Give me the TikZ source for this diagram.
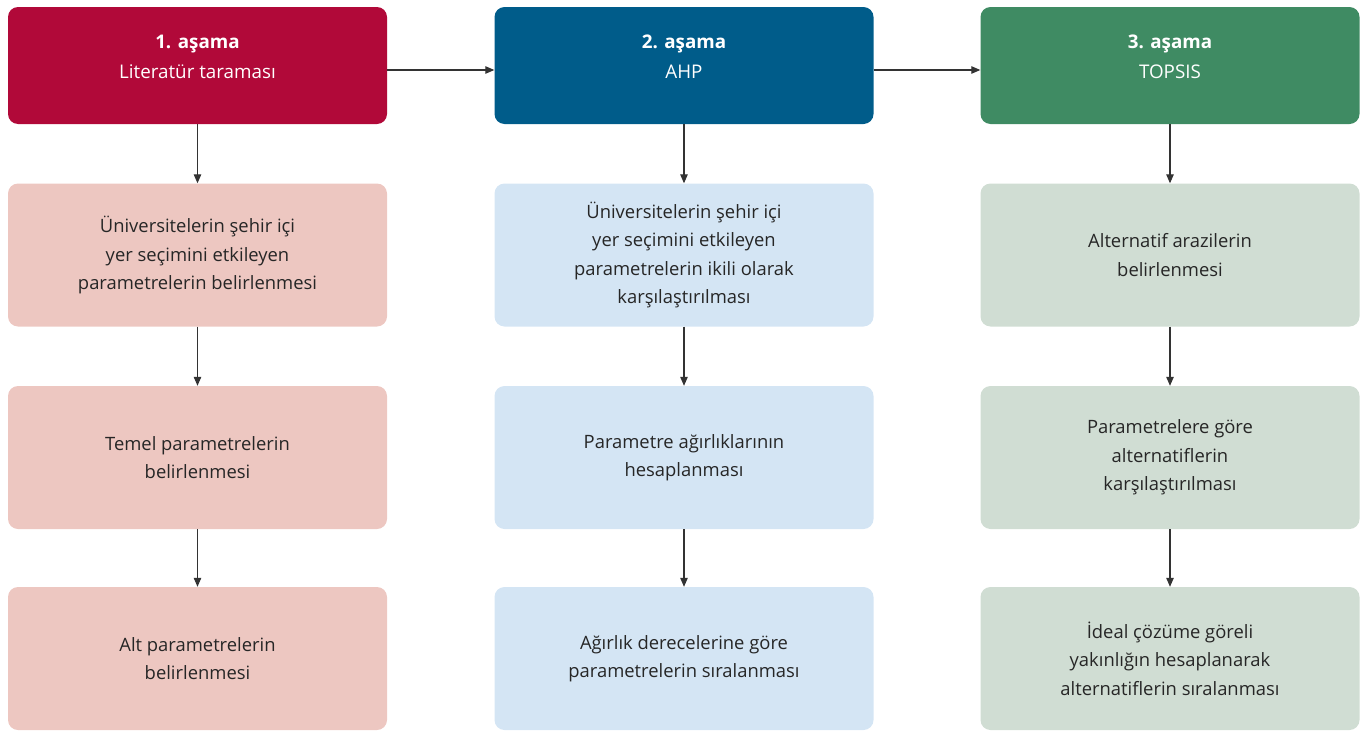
\documentclass[tikz,border=0pt]{standalone}
\usepackage{fontspec}
\setmainfont{Open Sans}
\usetikzlibrary{arrows.meta}
\definecolor{cA}{HTML}{B10939}
\definecolor{cB}{HTML}{005C8A}
\definecolor{cC}{HTML}{3F8B63}
\definecolor{lA}{HTML}{EDC7C1}
\definecolor{lB}{HTML}{D4E5F4}
\definecolor{lC}{HTML}{D0DDD3}
\definecolor{txt}{HTML}{262626}
\definecolor{arr}{HTML}{333333}
\tikzset{
  box/.style={rounded corners=10pt, minimum width=379pt, minimum height=143pt, inner sep=0pt, draw=none,
    align=center, text=txt, font=\fontsize{18.4}{28.5}\selectfont},
  hdr/.style={rounded corners=10pt, minimum width=379pt, minimum height=117pt, inner sep=0pt, draw=none},
  hdrtext/.style={text=white, align=center, font=\fontsize{18.8}{30}\selectfont},
  conn/.style={draw=arr, line width=1.1pt, -{Triangle[length=9pt,width=7.5pt]}}
}
\begin{document}
\begin{tikzpicture}[x=1pt,y=-1pt]
\useasboundingbox (0,0) rectangle (1366,731);
% headers
\node[hdr, fill=cA, label={[hdrtext, yshift=8.5pt]center:{\bfseries 1. aşama}\\Literatür taraması}] (h1) at (197.5,65.5) {};
\node[hdr, fill=cB, label={[hdrtext, yshift=8.5pt]center:{\bfseries 2. aşama}\\AHP}] (h2) at (684,65.5) {};
\node[hdr, fill=cC, label={[hdrtext, yshift=8.5pt]center:{\bfseries 3. aşama}\\TOPSIS}] (h3) at (1170,65.5) {};
% column 1
\node[box, fill=lA] (a1) at (197.5,255) {Üniversitelerin şehir içi\\yer seçimini etkileyen\\parametrelerin belirlenmesi};
\node[box, fill=lA] (a2) at (197.5,457.5) {Temel parametrelerin\\belirlenmesi};
\node[box, fill=lA] (a3) at (197.5,658.5) {Alt parametrelerin\\belirlenmesi};
% column 2
\node[box, fill=lB] (b1) at (684,255) {Üniversitelerin şehir içi\\yer seçimini etkileyen\\parametrelerin ikili olarak\\karşılaştırılması};
\node[box, fill=lB] (b2) at (684,457.5) {Parametre ağırlıklarının\\hesaplanması};
\node[box, fill=lB] (b3) at (684,658.5) {Ağırlık derecelerine göre\\parametrelerin sıralanması};
% column 3
\node[box, fill=lC] (c1) at (1170,255) {Alternatif arazilerin\\belirlenmesi};
\node[box, fill=lC] (c2) at (1170,457.5) {Parametrelere göre\\alternatiflerin\\karşılaştırılması};
\node[box, fill=lC] (c3) at (1170,658.5) {İdeal çözüme göreli\\yakınlığın hesaplanarak\\alternatiflerin sıralanması};
% connectors
\draw[conn] ([yshift=-4.5pt]h1.east) -- ([yshift=-4.5pt]h2.west);
\draw[conn] ([yshift=-4.5pt]h2.east) -- ([yshift=-4.5pt]h3.west);
\draw[conn] (h1) -- (a1);
\draw[conn] (a1) -- (a2);
\draw[conn] (a2) -- (a3);
\draw[conn] (h2) -- (b1);
\draw[conn] (b1) -- (b2);
\draw[conn] (b2) -- (b3);
\draw[conn] (h3) -- (c1);
\draw[conn] (c1) -- (c2);
\draw[conn] (c2) -- (c3);
\end{tikzpicture}
\end{document}
